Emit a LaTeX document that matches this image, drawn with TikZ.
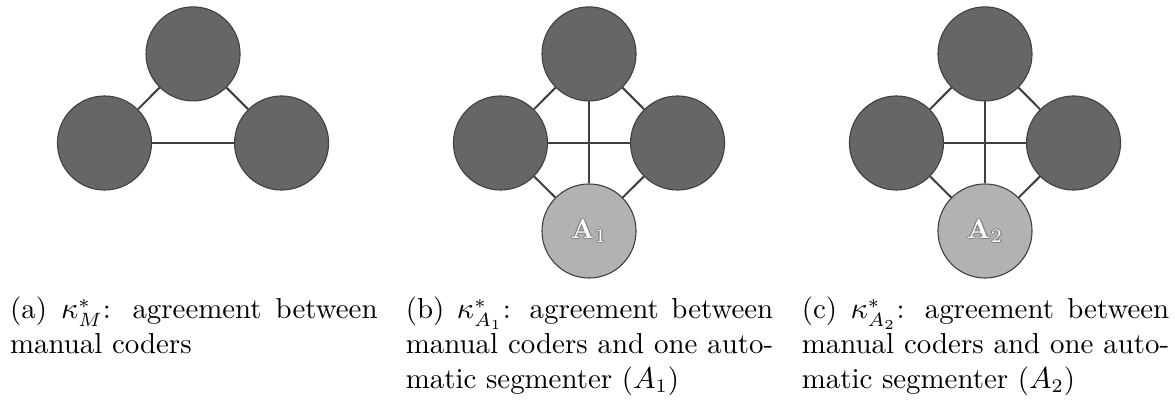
\documentclass[tikz,border=0pt]{standalone}
\usepackage{amsmath,amssymb,amsfonts}
\usepackage{xcolor}
\usepackage{tikz}

\newcommand{\glowlabel}[1]{\leavevmode
  \rlap{\kern0.45pt\textcolor{black!50}{#1}}\rlap{\kern-0.45pt\textcolor{black!50}{#1}}%
  \rlap{\raisebox{0.45pt}{\textcolor{black!50}{#1}}}\rlap{\raisebox{-0.45pt}{\textcolor{black!50}{#1}}}%
  \textcolor{white}{#1}}

\begin{document}
\begin{tikzpicture}[
    coder/.style={circle, draw=black!75, fill=black!60, minimum size=34.2pt, inner sep=0pt},
    autoseg/.style={circle, draw=black!75, fill=black!30, minimum size=34.2pt, inner sep=0pt},
    link/.style={draw=black!75, line width=0.75pt},
    capt/.style={anchor=base west, text width=133.6pt, align=justify, inner sep=0pt,
      font=\fontsize{10.5pt}{12.55pt}\selectfont}
  ]
  \useasboundingbox (0,0) rectangle (427.3pt,-145.1pt);

  % (a) manual coders only
  \node[coder] (ta) at (70.2pt,-19.6pt) {};
  \node[coder] (la) at (38pt,-52pt) {};
  \node[coder] (ra) at (102.4pt,-52pt) {};
  \draw[link] (ta) -- (la); \draw[link] (ta) -- (ra); \draw[link] (la) -- (ra);
  \node[capt] (capa) at (3.5pt,-116pt) {(a) $\kappa^*_M$: agreement between\linebreak manual coders};

  % (b) with A1
  \node[coder] (tb) at (214.2pt,-19.6pt) {};
  \node[coder] (lb) at (182pt,-52pt) {};
  \node[coder] (rb) at (246.4pt,-52pt) {};
  \node[autoseg] (bb) at (214.2pt,-84pt) {\glowlabel{$\mathbf{A}_1$}};
  \draw[link] (tb) -- (lb); \draw[link] (tb) -- (rb); \draw[link] (lb) -- (rb);
  \draw[link] (tb) -- (bb); \draw[link] (lb) -- (bb); \draw[link] (rb) -- (bb);
  \node[capt] (capb) at (147.4pt,-116pt) {(b) $\kappa^*_{A_1}$: agreement between\linebreak manual coders and one auto-\linebreak matic segmenter ($A_1$)};

  % (c) with A2
  \node[coder] (tc) at (358.2pt,-19.6pt) {};
  \node[coder] (lc) at (326pt,-52pt) {};
  \node[coder] (rc) at (390.4pt,-52pt) {};
  \node[autoseg] (bc) at (358.2pt,-84pt) {\glowlabel{$\mathbf{A}_2$}};
  \draw[link] (tc) -- (lc); \draw[link] (tc) -- (rc); \draw[link] (lc) -- (rc);
  \draw[link] (tc) -- (bc); \draw[link] (lc) -- (bc); \draw[link] (rc) -- (bc);
  \node[capt] (capc) at (291.4pt,-116pt) {(c) $\kappa^*_{A_2}$: agreement between\linebreak manual coders and one auto-\linebreak matic segmenter ($A_2$)};
\end{tikzpicture}
\end{document}
